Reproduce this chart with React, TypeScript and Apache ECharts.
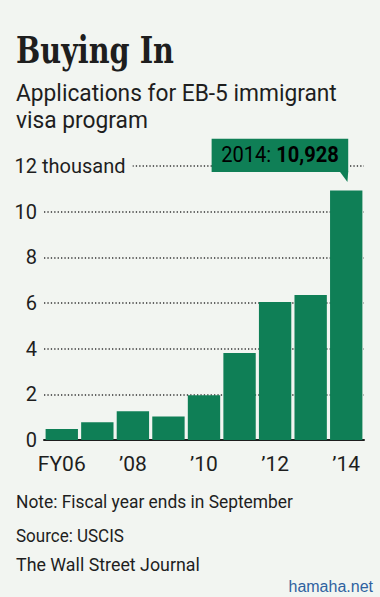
import React, { useEffect, useRef } from 'react';
import * as echarts from 'echarts';

const categories = ['2006', '2007', '2008', '2009', '2010', '2011', '2012', '2013', '2014'];
const tickLabels = ['FY06', '', '’08', '', '’10', '', '’12', '', '’14'];
const values = [0.486, 0.776, 1.257, 1.031, 1.955, 3.805, 6.041, 6.346, 10.928];
const yMax = 12;
const yStep = 2;
const yUnitLabel = 'thousand';
const titleText = 'Buying In';
const subtitleLines = ['Applications for EB-5 immigrant', 'visa program'];
const noteLines = ['Note: Fiscal year ends in September', 'Source: USCIS', 'The Wall Street Journal'];
const highlightPrefix = '2014: ';
const highlightValue = '10,928';
const watermark = 'hamaha.net';

export default function App() {
  const ref = useRef<HTMLDivElement>(null);
  useEffect(() => {
    const el = ref.current as HTMLDivElement;
    const chart = echarts.init(el, null, { renderer: 'svg' });
    const BG = '#f2f5f1';
    const GREEN = '#0f7f56';
    const INK = '#1e1e1e';
    const SANS = 'Roboto, "Noto Sans", sans-serif';
    const SERIF = '"DejaVu Serif", serif';
    const ctx = document.createElement('canvas').getContext('2d') as CanvasRenderingContext2D;
    const measure = (text: string, size: number, weight: string, family: string) => {
      ctx.font = `${weight} ${size}px ${family}`;
      return ctx.measureText(text).width;
    };
    const fit = (text: string, size: number, weight: string, family: string, target: number) => {
      const w = measure(text, size, weight, family);
      return w > 0 ? target / w : 1;
    };

    const option: any = {
      animation: false,
      backgroundColor: BG,
      grid: { left: 44, right: 16, top: 166, bottom: 157 },
      xAxis: {
        type: 'category',
        data: categories,
        boundaryGap: true,
        axisLine: { lineStyle: { color: INK, width: 2 } },
        axisTick: { alignWithLabel: true, interval: 0, length: 6, lineStyle: { color: INK, width: 2 } },
        axisLabel: {
          interval: 0,
          formatter: (_v: string, i: number) => tickLabels[i],
          fontSize: 21,
          color: INK,
          margin: 13,
          fontFamily: SANS,
        },
      },
      yAxis: {
        type: 'value',
        min: 0,
        max: yMax,
        interval: yStep,
        axisLine: { show: false },
        axisTick: { show: false },
        axisLabel: { fontSize: 20, color: INK, margin: 7, fontFamily: SANS },
        splitLine: { lineStyle: { color: '#333', width: 1.5, type: [1.3, 2.1] } },
      },
      series: [
        {
          type: 'bar',
          data: values,
          barCategoryGap: '9%',
          itemStyle: { color: GREEN },
          z: 3,
        },
      ],
    };
    chart.setOption(option);

    const last = values.length - 1;
    const [bx, by] = chart.convertToPixel({ seriesIndex: 0 }, [last, values[last]]) as number[];
    const yTop = chart.convertToPixel({ yAxisIndex: 0 }, yMax) as number;

    const boxRight = bx + 2;
    const boxW = 136.6;
    const boxH = 33.3;
    const boxTop = by - 51.7;
    const boxLeft = boxRight - boxW;

    const hlSize = 22;
    const hlW = measure(highlightPrefix, hlSize, 'normal', SANS) + measure(highlightValue, hlSize, 'bold', SANS);
    const hlScale = hlW > 0 ? 117.6 / hlW : 1;

    const leftText = (text: string, y: number, size: number, weight: string, family: string, target: number, color = INK) => ({
      type: 'text',
      x: 16,
      y,
      scaleX: fit(text, size, weight, family, target),
      style: { text, fontSize: size, fontWeight: weight, fontFamily: family, fill: color, align: 'left', verticalAlign: 'middle' },
    });

    const graphic: any[] = [
      leftText(titleText, 50.4, 37, 'bold', SERIF, 158),
      leftText(subtitleLines[0], 93.7, 23.5, 'normal', SANS, 321),
      leftText(subtitleLines[1], 120.3, 23.5, 'normal', SANS, 132),
      leftText(noteLines[0], 502.2, 18, 'normal', SANS, 277),
      leftText(noteLines[1], 535.6, 18, 'normal', SANS, 108),
      leftText(noteLines[2], 564.6, 18, 'normal', SANS, 184),
      {
        type: 'text',
        x: 42,
        y: yTop,
        z: 10,
        style: {
          text: yUnitLabel,
          fontSize: 20,
          fontFamily: SANS,
          fill: INK,
          align: 'left',
          verticalAlign: 'middle',
          backgroundColor: BG,
          padding: [2, 7, 2, 0],
        },
      },
      {
        type: 'rect',
        z: 10,
        shape: { x: boxLeft, y: boxTop, width: boxW, height: boxH },
        style: { fill: GREEN },
      },
      {
        type: 'polygon',
        z: 10,
        shape: {
          points: [
            [boxRight - 8.5, boxTop + boxH - 0.5],
            [boxRight, boxTop + boxH - 0.5],
            [bx + 1.2, by - 8.4],
          ],
        },
        style: { fill: GREEN },
      },
      {
        type: 'text',
        z: 11,
        x: boxLeft + boxW / 2,
        y: boxTop + boxH / 2 - 1,
        scaleX: hlScale,
        style: {
          text: `{a|${highlightPrefix}}{b|${highlightValue}}`,
          align: 'center',
          verticalAlign: 'middle',
          rich: {
            a: { fontSize: hlSize, fontFamily: SANS, color: '#ffffff' },
            b: { fontSize: hlSize, fontFamily: SANS, fontWeight: 'bold', color: '#ffffff' },
          },
        },
      },
      {
        type: 'text',
        x: 373,
        y: 586,
        style: {
          text: watermark,
          fontSize: 16,
          fontFamily: '"Liberation Sans", Arial, sans-serif',
          fill: '#2f62a0',
          align: 'right',
          verticalAlign: 'middle',
        },
      },
    ];
    chart.setOption({ graphic });

    return () => {
      chart.dispose();
    };
  }, []);

  return <div ref={ref} style={{ position: 'absolute', left: 0, top: 0, width: 380, height: 597 }} />;
}
